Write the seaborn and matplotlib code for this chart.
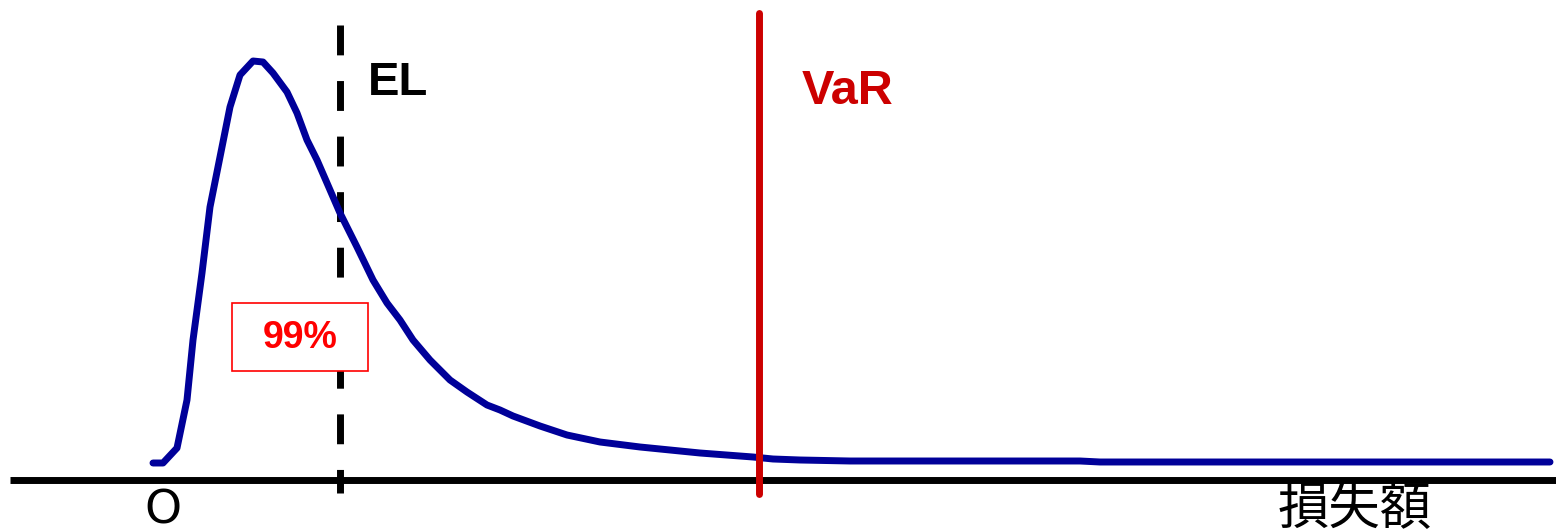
import matplotlib
matplotlib.use("Agg")
import matplotlib.pyplot as plt
import seaborn as sns
from matplotlib.patches import Rectangle

sns.set_style("white")
plt.rcParams['font.family'] = ['Liberation Sans', 'Noto Sans CJK JP', 'DejaVu Sans']

# loss distribution (loss amount vs density, arbitrary units)
loss = [0, 10, 24, 34, 40, 49, 57, 67, 77, 87, 100, 110, 120, 134, 144, 154, 164,
        174, 187, 204, 220, 234, 247, 260, 277, 297, 314, 334, 347, 360, 387, 414,
        447, 487, 547, 600, 620, 647, 697, 757, 847, 927, 947, 1397]
density = [17, 17, 32, 80, 140, 207, 273, 323, 373, 405, 419, 418, 407, 388, 367, 340, 320,
           297, 267, 233, 200, 177, 160, 140, 120, 100, 88, 75, 70, 64, 54, 45,
           38, 33, 27, 23, 21, 20, 19, 19, 19, 19, 18, 18]

el_value = 187
var_value = 606
confidence_label = "99%"
x_label = "損失額"

fig = plt.figure(figsize=(15.56, 5.31), dpi=100)
ax = fig.add_axes([0, 0, 1, 1])
ax.set_xlim(-153, 1403)
ax.set_ylim(-51, 480)
ax.axis("off")

# horizontal axis
ax.plot([-143, 1403], [0, 0], color="black", lw=5, solid_capstyle="butt", zorder=2)

# distribution curve
sns.lineplot(x=loss, y=density, sort=False, color="#000099", lw=5, ax=ax, zorder=4)

# EL dashed line
ax.plot([el_value, el_value], [455, -13], color="black", lw=5,
        linestyle=(0, (4.3, 3.7)), dash_capstyle="butt", zorder=3)
ax.text(el_value + 28, 385, "EL", fontsize=34, fontweight="bold", color="black",
        ha="left", va="baseline")

# VaR line
ax.plot([var_value, var_value], [467, -14], color="#cc0000", lw=5,
        solid_capstyle="round", zorder=5)
ax.text(var_value + 43, 376, "VaR", fontsize=35, fontweight="bold", color="#cc0000",
        ha="left", va="baseline")

# 99% box
ax.add_patch(Rectangle((79, 109), 136, 68, facecolor="white", edgecolor="#ff0000",
                       lw=1.2, zorder=6))
ax.text(147, 142, confidence_label, fontsize=27, fontweight="bold", color="#ff0000",
        ha="center", va="center", zorder=7)

# axis labels
ax.text(10, -9, "O", fontsize=34, color="black", ha="center", va="top",
        family=["DejaVu Sans"])
ax.text(1202, -2, x_label, fontsize=37, color="black", ha="center", va="top",
        family=["Noto Sans CJK JP"])

fig.savefig("out.png", dpi=100)
